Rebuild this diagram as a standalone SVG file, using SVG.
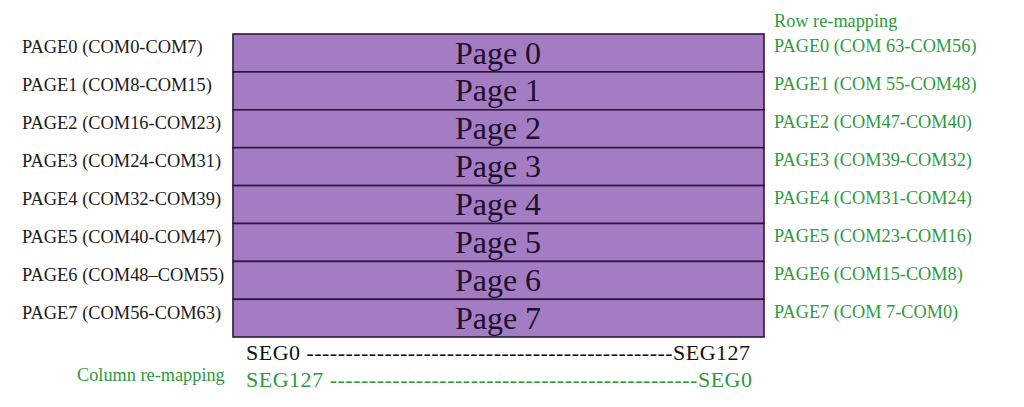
<svg xmlns="http://www.w3.org/2000/svg" width="1024" height="407" viewBox="0 0 1024 407">
<style>
.lbl{font-family:"Liberation Serif","Times New Roman",serif;font-size:18.4px;fill:#1c1a1a}
.grn{font-family:"Liberation Serif","Times New Roman",serif;font-size:18.3px;fill:#2f9a3c}
.pg{font-family:"Liberation Serif","Times New Roman",serif;font-size:32px;fill:#1e0f2a;text-anchor:middle}
.seg{font-family:"Liberation Serif","Times New Roman",serif;font-size:22px}
.row{fill:#a47cc4;stroke:#2a1838;stroke-width:1.6}
</style>
<rect width="1024" height="407" fill="#ffffff"/>
<g id="page0"><rect class="row" x="233" y="34" width="531" height="37.9"/><text class="pg" x="498" y="63.5">Page 0</text></g>
<g id="page1"><rect class="row" x="233" y="71.9" width="531" height="37.9"/><text class="pg" x="498" y="101.4">Page 1</text></g>
<g id="page2"><rect class="row" x="233" y="109.8" width="531" height="37.9"/><text class="pg" x="498" y="139.3">Page 2</text></g>
<g id="page3"><rect class="row" x="233" y="147.7" width="531" height="37.9"/><text class="pg" x="498" y="177.2">Page 3</text></g>
<g id="page4"><rect class="row" x="233" y="185.6" width="531" height="37.9"/><text class="pg" x="498" y="215.1">Page 4</text></g>
<g id="page5"><rect class="row" x="233" y="223.5" width="531" height="37.9"/><text class="pg" x="498" y="253">Page 5</text></g>
<g id="page6"><rect class="row" x="233" y="261.4" width="531" height="37.9"/><text class="pg" x="498" y="290.9">Page 6</text></g>
<g id="page7"><rect class="row" x="233" y="299.3" width="531" height="37.7"/><text class="pg" x="498" y="328.8">Page 7</text></g>
<g id="left-labels">
<text class="lbl" x="22" y="52.5">PAGE0 (COM0-COM7)</text>
<text class="lbl" x="22" y="90.5">PAGE1 (COM8-COM15)</text>
<text class="lbl" x="22" y="128.5">PAGE2 (COM16-COM23)</text>
<text class="lbl" x="22" y="166.5">PAGE3 (COM24-COM31)</text>
<text class="lbl" x="22" y="204.5">PAGE4 (COM32-COM39)</text>
<text class="lbl" x="22" y="242.5">PAGE5 (COM40-COM47)</text>
<text class="lbl" x="22" y="280.5">PAGE6 (COM48–COM55)</text>
<text class="lbl" x="22" y="318.5">PAGE7 (COM56-COM63)</text>
</g>
<g id="right-labels">
<text class="grn" x="774" y="27">Row re-mapping</text>
<text class="grn" x="774" y="51.5">PAGE0 (COM 63-COM56)</text>
<text class="grn" x="774" y="89.5">PAGE1 (COM 55-COM48)</text>
<text class="grn" x="774" y="127.5">PAGE2 (COM47-COM40)</text>
<text class="grn" x="774" y="165.5">PAGE3 (COM39-COM32)</text>
<text class="grn" x="774" y="203.5">PAGE4 (COM31-COM24)</text>
<text class="grn" x="774" y="241.5">PAGE5 (COM23-COM16)</text>
<text class="grn" x="774" y="279.5">PAGE6 (COM15-COM8)</text>
<text class="grn" x="774" y="317.5">PAGE7 (COM 7-COM0)</text>
</g>
<g id="segments">
<text class="seg" x="246" y="359.5" fill="#111111" textLength="504" lengthAdjust="spacing">SEG0 -----------------------------------------------SEG127</text>
<text class="grn" x="77" y="380.5">Column re-mapping</text>
<text class="seg" x="246" y="386.5" fill="#2f9a3c" textLength="506" lengthAdjust="spacing">SEG127 -----------------------------------------------SEG0</text>
</g>
</svg>
